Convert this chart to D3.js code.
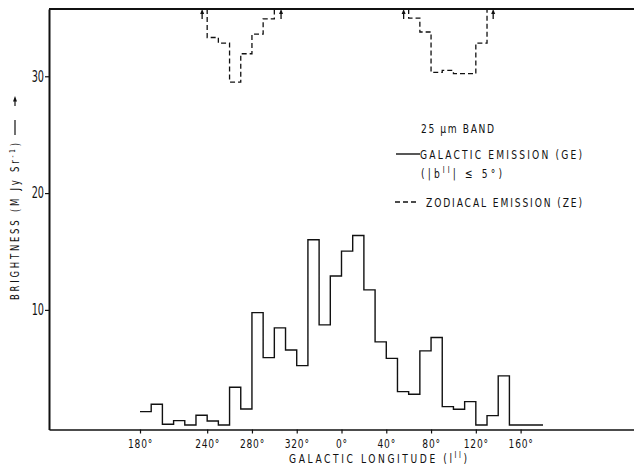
<!DOCTYPE html>
<html>
<head>
<meta charset="utf-8">
<script src="https://cdn.jsdelivr.net/npm/d3@7"></script>
<style>
  body { margin: 0; background: #fff; }
  svg text { font-family: "Liberation Sans Narrow", "DejaVu Sans Condensed", sans-serif; fill: #111; }
</style>
</head>
<body>
<div id="chart"></div>
<script>
// Galactic longitude, shifted so that 180..360 becomes -180..0
const lonTicks = [-180, -120, -80, -40, 0, 40, 80, 120, 160];
const brightTicks = [10, 20, 30];

// Galactic emission (GE), 10 degree bins, value per bin start
const geLon = [-180, -170, -160, -150, -140, -130, -120, -110, -100, -90,
               -80, -70, -60, -50, -40, -30, -20, -10, 0, 10,
               20, 30, 40, 50, 60, 70, 80, 90, 100, 110,
               120, 130, 140, 150, 160, 170];
const geVal = [1.29, 1.92, 0.21, 0.52, 0.15, 0.98, 0.49, 0.15, 3.38, 1.52,
               9.77, 5.91, 8.46, 6.57, 5.23, 16.0, 8.72, 12.9, 15.03, 16.37,
               11.71, 7.26, 5.85, 3.0, 2.78, 6.49, 7.63, 1.72, 1.49, 2.15,
               0.15, 0.95, 4.35, 0.15, 0.15, 0.15];
const geEnd = 180;

// Zodiacal emission (ZE), two dips hanging from the top of the frame
const zeLeftLon = [-120, -110, -100, -90, -80, -70];
const zeLeftVal = [33.32, 32.84, 29.5, 31.93, 33.61, 34.92];
const zeLeftEnd = -60;
const zeRightLon = [60, 70, 80, 90, 100, 120];
const zeRightVal = [34.98, 33.79, 30.33, 30.5, 30.22, 32.84];
const zeRightEnd = 130;

// small arrows at the top frame
const arrowLon = [-124.5, -54, 55.5, 135.5];

const width = 634, height = 468;
const narrow = 0.78; // squeeze glyphs to look like the condensed lettering

const svg = d3.select("#chart").append("svg")
    .attr("width", width)
    .attr("height", height)
    .style("background", "#fff");

const x = d3.scaleLinear().domain([-261.3, 261.3]).range([49, 634]);
const y = d3.scaleLinear().domain([-0.24, 35.76]).range([429.5, 9]);
const yTop = y.domain()[1];

// top frame
svg.append("line")
    .attr("x1", x.range()[0]).attr("x2", x.range()[1])
    .attr("y1", y(yTop)).attr("y2", y(yTop))
    .attr("stroke", "#111").attr("stroke-width", 2);

// x axis
const xAxis = svg.append("g")
    .attr("transform", `translate(0,${y.range()[0]})`)
    .call(d3.axisBottom(x).tickValues(lonTicks).tickSizeInner(4).tickSizeOuter(0)
        .tickFormat(d => (d < 0 ? d + 360 : d) + "°"));
xAxis.select(".domain").attr("stroke", "#111").attr("stroke-width", 1.6);
xAxis.selectAll(".tick line").attr("stroke", "#111").attr("stroke-width", 1.2);
xAxis.selectAll(".tick text")
    .attr("y", 9)
    .attr("transform", `scale(${narrow},1)`)
    .style("font-size", "13px")
    .style("letter-spacing", "1px");

// y axis
const yAxis = svg.append("g")
    .attr("transform", `translate(${x.range()[0]},0)`)
    .call(d3.axisLeft(y).tickValues(brightTicks).tickSizeInner(4).tickSizeOuter(0));
yAxis.select(".domain").attr("stroke", "#111").attr("stroke-width", 2);
yAxis.selectAll(".tick line").attr("stroke", "#111").attr("stroke-width", 1.2);
yAxis.selectAll(".tick text")
    .attr("x", -5 / 0.72)
    .attr("transform", "scale(0.72,1)")
    .style("font-size", "15px");

// step lines
const step = d3.line().x(d => x(d[0])).y(d => y(d[1])).curve(d3.curveStepAfter);

const gePts = geLon.map((l, i) => [l, geVal[i]]);
gePts.push([geEnd, geVal[geVal.length - 1]]);
svg.append("path")
    .attr("d", step(gePts))
    .attr("fill", "none")
    .attr("stroke", "#111")
    .attr("stroke-width", 1.4);

function dipPoints(lons, vals, end) {
    const pts = [[lons[0], yTop]];
    lons.forEach((l, i) => pts.push([l, vals[i]]));
    pts.push([end, yTop]);
    return pts;
}
[dipPoints(zeLeftLon, zeLeftVal, zeLeftEnd), dipPoints(zeRightLon, zeRightVal, zeRightEnd)]
    .forEach(pts => {
        svg.append("path")
            .attr("d", step(pts))
            .attr("fill", "none")
            .attr("stroke", "#111")
            .attr("stroke-width", 1.3)
            .attr("stroke-dasharray", "5,3");
    });

// arrows at the top frame
arrowLon.forEach(l => {
    const ax = x(l), ay = y(yTop);
    svg.append("line")
        .attr("x1", ax).attr("x2", ax)
        .attr("y1", ay + 3).attr("y2", ay + 10)
        .attr("stroke", "#111").attr("stroke-width", 1.3);
    svg.append("path")
        .attr("d", `M${ax},${ay} L${ax - 2},${ay + 5} L${ax + 2},${ay + 5} Z`)
        .attr("fill", "#111");
});

// squeezed text helper: position, target width on screen
function label(px, py, len, size, extra) {
    return svg.append("text")
        .attr("transform", `translate(${px},${py})${extra || ""} scale(${narrow},1)`)
        .attr("textLength", len / narrow)
        .attr("lengthAdjust", "spacing")
        .style("font-size", size + "px");
}

// y axis title (rotated) with arrow
const yTitle = label(19, 300, 157, 12, " rotate(-90)");
yTitle.append("tspan").text("BRIGHTNESS (M Jy Sr");
yTitle.append("tspan").attr("dy", -4).style("font-size", "8px").text("-1");
yTitle.append("tspan").attr("dy", 4).text(")");

svg.append("line")
    .attr("x1", 15).attr("x2", 15).attr("y1", 135).attr("y2", 120)
    .attr("stroke", "#111").attr("stroke-width", 1.2);
svg.append("line")
    .attr("x1", 15).attr("x2", 15).attr("y1", 106).attr("y2", 100)
    .attr("stroke", "#111").attr("stroke-width", 1.2);
svg.append("path")
    .attr("d", "M15,96 L13,101.5 L17,101.5 Z")
    .attr("fill", "#111");

// x axis title
const xTitle = label(289, 463, 178, 13);
xTitle.append("tspan").text("GALACTIC  LONGITUDE   (l");
xTitle.append("tspan").attr("dy", -5).style("font-size", "9px").text("II");
xTitle.append("tspan").attr("dy", 5).text(")");

// legend
label(421, 133, 73, 13).text("25 μm  BAND");

svg.append("line")
    .attr("x1", 396).attr("x2", 420).attr("y1", 154).attr("y2", 154)
    .attr("stroke", "#111").attr("stroke-width", 1.4);
label(420, 159, 162, 13).text("GALACTIC  EMISSION  (GE)");

const bText = label(421, 178, 81, 13);
bText.append("tspan").text("(|b");
bText.append("tspan").attr("dy", -5).style("font-size", "9px").text("II");
bText.append("tspan").attr("dy", 5).text("|  ≤  5°)");

svg.append("line")
    .attr("x1", 395).attr("x2", 418).attr("y1", 202).attr("y2", 202)
    .attr("stroke", "#111").attr("stroke-width", 1.3)
    .attr("stroke-dasharray", "5,3");
label(426, 207, 156, 13).text("ZODIACAL  EMISSION  (ZE)");
</script>
</body>
</html>
